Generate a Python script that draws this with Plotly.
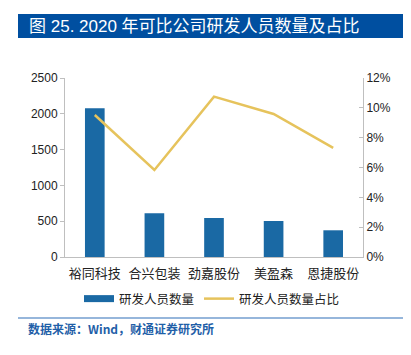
import plotly.graph_objects as go

companies = ["裕同科技", "合兴包装", "劲嘉股份", "美盈森", "恩捷股份"]
staff_count = [2077, 610, 545, 503, 373]
staff_ratio = [9.52, 5.83, 10.75, 9.59, 7.31]

bar_name = "研发人员数量"
line_name = "研发人员数量占比"
title_text = "图 25. 2020 年可比公司研发人员数量及占比"
source_text = "数据来源：Wind，财通证券研究所"

OFF = 8  # page body margin
W, H = 411 - OFF, 355 - OFF
L, R, T, B = 65 - OFF, 363 - OFF, 78 - OFF, 257 - OFF

def px(x):
    return (x - OFF - L) / (R - L)

def py(y):
    return (B - (y - OFF)) / (B - T)

bar_color = "#1a69a4"
line_color = "#e6c35c"

fig = go.Figure()
fig.add_trace(go.Bar(
    x=companies, y=staff_count, name=bar_name,
    marker=dict(color=bar_color, line=dict(width=0)),
    width=0.33, yaxis="y", showlegend=False,
))
# legend-only entry to show a wide rectangular swatch for the bars
fig.add_trace(go.Scatter(
    x=[None], y=[None], name=bar_name, mode="lines",
    line=dict(color=bar_color, width=7), yaxis="y",
))
fig.add_trace(go.Scatter(
    x=companies, y=staff_ratio, name=line_name, mode="lines",
    line=dict(color=line_color, width=2.5), yaxis="y2",
))

axis_color = "#bfbfbf"
tick_font = dict(family="Liberation Sans, Arial, sans-serif", size=12, color="#222222")

fig.update_layout(
    width=W, height=H,
    margin=dict(l=L, r=W - R, t=T, b=H - B, pad=0),
    paper_bgcolor="white", plot_bgcolor="white",
    showlegend=True,
    xaxis=dict(
        showline=True, linecolor=axis_color, linewidth=1,
        showgrid=False, ticks="", zeroline=False,
        tickfont=dict(family="Noto Sans CJK SC", size=13, color="#222222"),
        ticklabelstandoff=4,
        fixedrange=True,
    ),
    yaxis=dict(
        range=[0, 2500], dtick=500, showline=True, linecolor=axis_color,
        linewidth=1, showgrid=False, zeroline=False,
        ticks="outside", ticklen=4, tickcolor=axis_color,
        tickfont=tick_font,
    ),
    yaxis2=dict(
        range=[0, 12], dtick=2, overlaying="y", side="right",
        showline=True, linecolor=axis_color, linewidth=1,
        showgrid=False, zeroline=False, ticksuffix="%",
        ticks="inside", ticklen=4, tickcolor=axis_color,
        tickfont=tick_font,
    ),
    legend=dict(
        orientation="h", x=px(212), xanchor="center", y=py(299), yanchor="middle",
        font=dict(family="Noto Sans CJK SC", size=12.5, color="#222222"),
        bgcolor="rgba(0,0,0,0)", itemwidth=30, tracegroupgap=0,
    ),
    shapes=[
        dict(type="rect", xref="paper", yref="paper",
             x0=px(18), x1=px(404), y0=py(38), y1=py(14),
             fillcolor="#004fa0", line=dict(width=0), layer="below"),
        dict(type="line", xref="paper", yref="paper",
             x0=px(18), x1=px(404), y0=py(318), y1=py(318),
             line=dict(color="#2e6fb7", width=1.2)),
    ],
    annotations=[
        dict(text=title_text, xref="paper", yref="paper",
             x=px(27), y=py(26), xanchor="left", yanchor="middle",
             showarrow=False,
             font=dict(family="Liberation Sans, Noto Sans CJK SC", size=17, color="white")),
        dict(text="<b>" + source_text + "</b>", xref="paper", yref="paper",
             x=px(26), y=py(328), xanchor="left", yanchor="middle",
             showarrow=False,
             font=dict(family="Noto Sans CJK SC", size=12, color="#1f5fa8")),
    ],
)

fig.write_html("out.html")
